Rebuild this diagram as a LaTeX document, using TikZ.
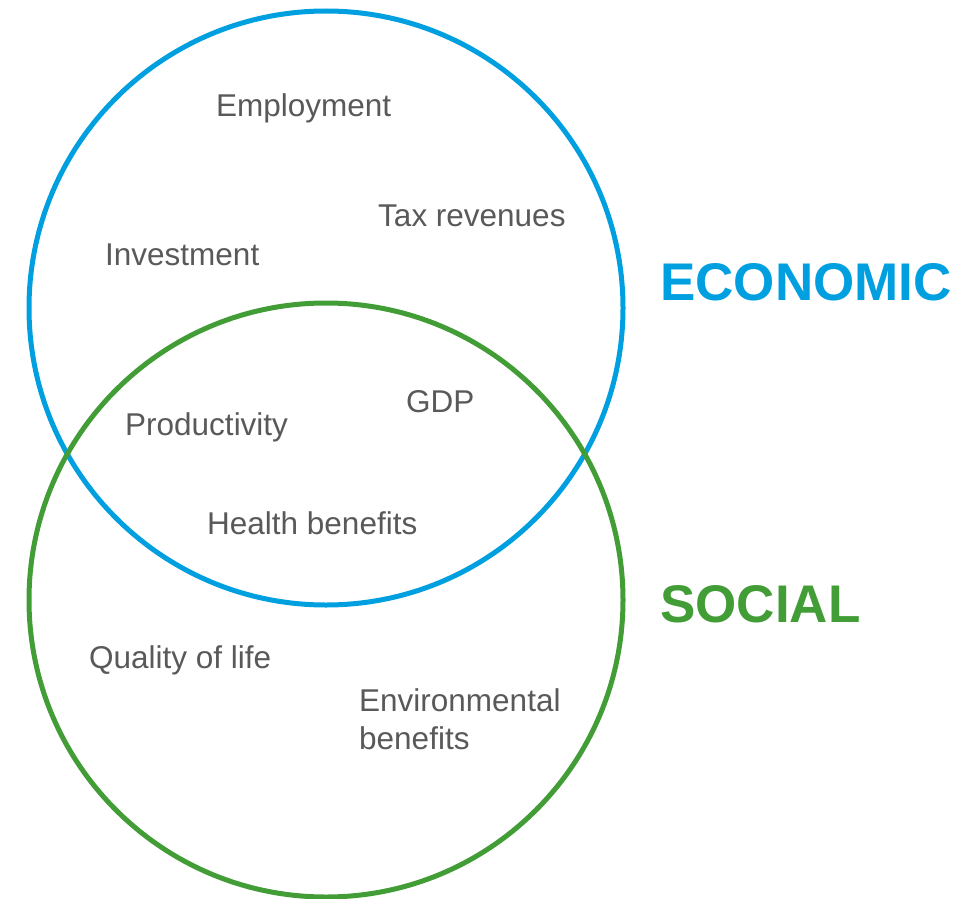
\documentclass[tikz,border=0pt]{standalone}
\usepackage{fontspec}
\setmainfont{Liberation Sans}
\definecolor{econblue}{RGB}{0,159,223}
\definecolor{socgreen}{RGB}{67,157,55}
\definecolor{labelgray}{RGB}{89,89,89}
\usetikzlibrary{positioning}
\tikzstyle{ring}=[line width=5pt]
\tikzstyle{item}=[anchor=base west, inner sep=0pt, text=labelgray,
  font=\fontsize{31.5}{38}\selectfont]
\tikzstyle{title}=[anchor=base west, inner sep=0pt,
  font=\fontsize{53}{60}\selectfont\bfseries]

\begin{document}
\begin{tikzpicture}[x=1pt, y=-1pt]
  \useasboundingbox (0,0) rectangle (966,899);
  \coordinate (ce) at (326,308);
  \coordinate (cs) at (326,600);

  \draw[ring, econblue] (ce) circle (297pt);
  \draw[ring, socgreen] (cs) circle (297pt);

  \node[item] (employ) at (216,116) {Employment};
  \node[item] (tax)    at (378,226) {Tax revenues};
  \node[item] (invest) at (105,265) {Investment};
  \node[item] (gdp)    at (406,412) {GDP};
  \node[item] (prod)   at (125,435) {Productivity};
  \node[item] (health) at (207,534) {Health benefits};
  \node[item] (qol)    at (89,668)  {Quality of life};
  \node[item, align=left] (env) at (359,749) {Environmental\\benefits};

  \node[title, text=econblue] (econ) at (660,300) {ECONOMIC};
  \node[title, text=socgreen] (soc)  at (660,622) {SOCIAL};
\end{tikzpicture}
\end{document}
